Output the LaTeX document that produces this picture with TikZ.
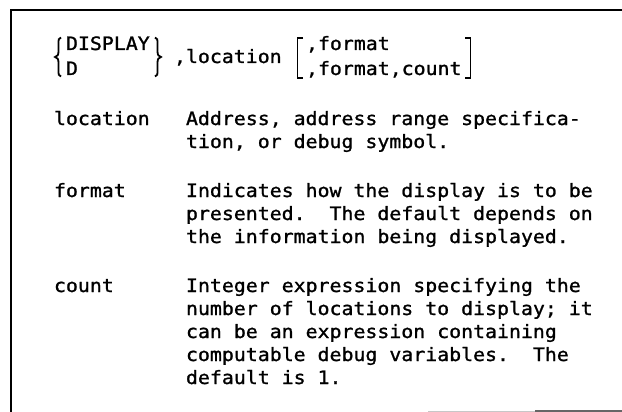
\documentclass[tikz,border=0pt]{standalone}
\usepackage{fontspec}
% slightly widened and thickened sans mono, 12pt character pitch
\newfontfamily\syntaxfont[FakeStretch=1.08,FakeBold=1.2]{DejaVu Sans Mono}
\begin{document}
\begin{tikzpicture}[x=1pt,y=-1pt,
  txt/.style={font=\syntaxfont\fontsize{18.4}{22}\selectfont\frenchspacing,
              anchor=base west, inner sep=0pt, outer sep=0pt},
  delim/.style={line width=1.8pt, line cap=butt, line join=miter},
  boxline/.style={line width=2.6pt}]
\useasboundingbox (0,0) rectangle (622,412);

% open frame: top and left rules, faint rule at the bottom right
\draw[boxline] (622,10) -- (11,10) -- (11,412);
\draw[line width=1.4pt, black!22] (428,411.2) -- (535,411.2);
\draw[line width=1.6pt, black!60] (535,411.2) -- (622,411.2);

% command syntax
\node[txt] (disp)  at (66,50) {DISPLAY};
\node[txt] (dabbr) at (66,75) {D};
\node[txt] (locarg) at (174,63) {,location};
\node[txt] (fmtA) at (306,50) {,format};
\node[txt] (fmtB) at (306,75) {,format,count};

% braces around the command names
\draw[delim] (61,37.5) .. controls (58.5,37.5) and (58.5,40) .. (58.5,44)
  -- (58.5,51) .. controls (58.5,55) and (57.5,56.5) .. (55,57)
  .. controls (57.5,57.5) and (58.5,59) .. (58.5,63)
  -- (58.5,70) .. controls (58.5,74) and (58.5,76.5) .. (61,76.5);
\draw[delim] (155,37.5) .. controls (157.5,37.5) and (157.5,40) .. (157.5,44)
  -- (157.5,51) .. controls (157.5,55) and (158.5,56.5) .. (161,57)
  .. controls (158.5,57.5) and (157.5,59) .. (157.5,63)
  -- (157.5,70) .. controls (157.5,74) and (157.5,76.5) .. (155,76.5);

% brackets around the optional operands
\draw[delim] (303,38) -- (297.5,38) -- (297.5,78) -- (303,78);
\draw[delim] (465,38) -- (470.5,38) -- (470.5,78) -- (465,78);

% operand descriptions
\node[txt] (lblloc) at (54,125) {location};
\node[txt] (dloc1) at (186,125) {Address, address range specifica-};
\node[txt] (dloc2) at (186,148) {tion, or debug symbol.};

\node[txt] (lblfmt) at (54,197) {format};
\node[txt] (dfmt1) at (186,197) {Indicates how the display is to be};
\node[txt] (dfmt2) at (186,220) {presented.\ \ The default depends on};
\node[txt] (dfmt3) at (186,243) {the information being displayed.};

\node[txt] (lblcnt) at (54,292) {count};
\node[txt] (dcnt1) at (186,292) {Integer expression specifying the};
\node[txt] (dcnt2) at (186,315) {number of locations to display; it};
\node[txt] (dcnt3) at (186,338) {can be an expression containing};
\node[txt] (dcnt4) at (186,361) {computable debug variables.\ \ The};
\node[txt] (dcnt5) at (186,384) {default is 1.};
\end{tikzpicture}
\end{document}
